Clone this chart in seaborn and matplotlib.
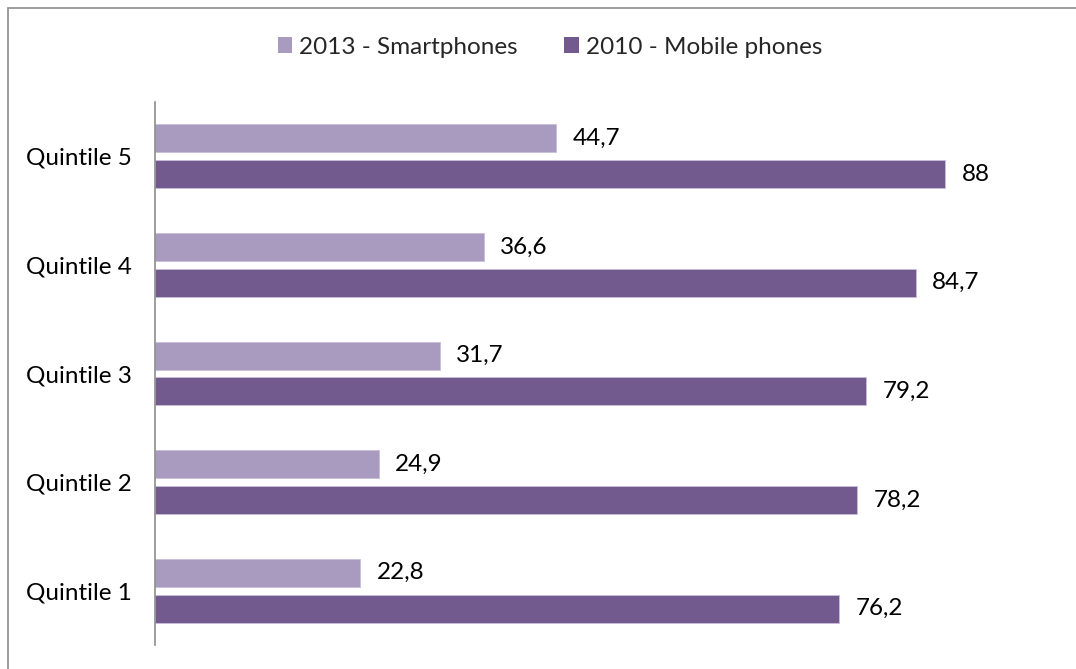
import matplotlib
matplotlib.use("Agg")
import matplotlib.pyplot as plt
import matplotlib.patches as mpatches
import seaborn as sns
import pandas as pd

quintiles = ["Quintile 5", "Quintile 4", "Quintile 3", "Quintile 2", "Quintile 1"]
smartphones_2013 = [44.7, 36.6, 31.7, 24.9, 22.8]
mobile_2010 = [88, 84.7, 79.2, 78.2, 76.2]
series_names = ["2013 - Smartphones", "2010 - Mobile phones"]
colors = ["#A99BBF", "#725A8E"]

df = pd.DataFrame({
    "quintile": quintiles * 2,
    "value": smartphones_2013 + mobile_2010,
    "series": [series_names[0]] * len(quintiles) + [series_names[1]] * len(quintiles),
})

sns.set_theme(style="white")
plt.rcParams["font.family"] = ["Lato", "DejaVu Sans"]

fig = plt.figure(figsize=(10.76, 6.69), dpi=100)
ax = fig.add_axes([155 / 1076, 1 - 645 / 669, (1053 - 155) / 1076, (645 - 102) / 669])

sns.barplot(
    data=df, x="value", y="quintile", hue="series",
    order=quintiles, hue_order=series_names, palette=colors,
    orient="h", width=0.66, gap=0.22, ax=ax,
    edgecolor="#C9BEDA", linewidth=0.6, saturation=1,
)

ax.set_xlim(0, 100)
ax.set_xlabel("")
ax.set_ylabel("")
ax.set_xticks([])
ax.tick_params(axis="y", length=0, pad=17, labelsize=17.5, labelcolor="#000000")
for side in ["top", "right", "bottom"]:
    ax.spines[side].set_visible(False)
ax.spines["left"].set_color("#8C8C8C")
ax.spines["left"].set_linewidth(1.2)

for container in ax.containers:
    labels = [f"{v:g}".replace(".", ",") for v in container.datavalues]
    ax.bar_label(container, labels=labels, padding=12, fontsize=17.5, color="#000000")

handles = [mpatches.Patch(facecolor=c, edgecolor="none") for c in colors]
ax.legend(
    handles, series_names, loc="center", bbox_to_anchor=(550 / 1076, 1 - 47 / 669),
    bbox_transform=fig.transFigure, ncol=2, frameon=False, fontsize=17.5,
    handlelength=0.6, handleheight=0.6, handletextpad=0.3, columnspacing=1.9,
)

# Chart frame: its right and bottom edges run past the canvas
fig.patches.append(mpatches.Rectangle(
    (8 / 1076, -10 / 669), (1090 - 8) / 1076, (661 + 10) / 669,
    transform=fig.transFigure, fill=False, edgecolor="#8C8C8C", linewidth=1.2,
))

fig.savefig("out.png", dpi=100, facecolor="white")
